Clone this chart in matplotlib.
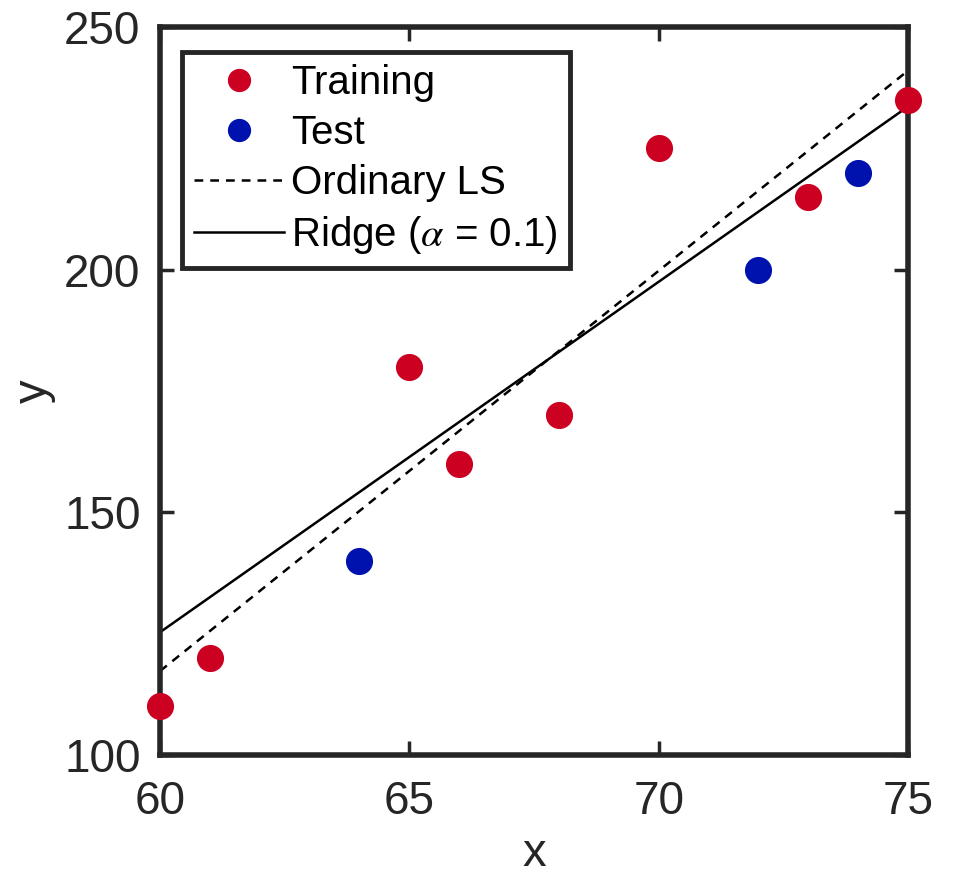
import matplotlib
matplotlib.use("Agg")
import matplotlib.pyplot as plt
from matplotlib import font_manager as fm
import numpy as np

# Data
train_x = [60, 61, 65, 66, 68, 70, 73, 75]
train_y = [110, 120, 180, 160, 170, 225, 215, 235]
test_x = [64, 72, 74]
test_y = [140, 200, 220]
line_x = [60, 75]
ols_y = [117.3, 241.0]
ridge_y = [125.3, 233.6]
xticks = [60, 65, 70, 75]
yticks = [100, 150, 200, 250]

names = {f.name for f in fm.fontManager.ttflist}
narrow = "Liberation Sans Narrow" if "Liberation Sans Narrow" in names else "Liberation Sans"
plt.rcParams['font.family'] = ['Liberation Sans', 'DejaVu Sans']
plt.rcParams['mathtext.fontset'] = 'stix'

fig = plt.figure(figsize=(9.56, 8.84), dpi=100)
ax = fig.add_axes([0.1674, 0.1459, 0.7824, 0.8236])

red = '#CC0020'
blue = '#0012AE'
dark = '#262626'

ax.plot(train_x, train_y, 'o', color=red, markersize=18.5, linestyle='none', label='Training',
        zorder=5, clip_on=False)
ax.plot(test_x, test_y, 'o', color=blue, markersize=18.5, linestyle='none', label='Test',
        zorder=5, clip_on=False)
ax.plot(line_x, ols_y, color='black', lw=1.8, dashes=(3.5, 2.8), label='Ordinary LS', zorder=2)
ax.plot(line_x, ridge_y, color='black', lw=1.8, label=r'Ridge ($\alpha$ = 0.1)', zorder=2)

ax.set_xlim(60, 75)
ax.set_ylim(100, 250)
ax.set_xticks(xticks)
ax.set_yticks(yticks)
ax.tick_params(direction='in', length=10, width=2.5, colors=dark, top=True, right=True,
               labelsize=33)
ax.tick_params(axis='x', pad=18)
ax.tick_params(axis='y', pad=14)
for lab in ax.get_xticklabels() + ax.get_yticklabels():
    lab.set_fontfamily(narrow)
for s in ax.spines.values():
    s.set_linewidth(4)
    s.set_color(dark)
    s.set_zorder(4)

ax.set_xlabel('x', fontsize=34, family=narrow, color=dark, labelpad=6)
ax.set_ylabel('y', fontsize=34, family=narrow, color=dark, labelpad=6)

leg = ax.legend(loc='upper left', bbox_to_anchor=(0.029, 0.966), borderaxespad=0,
                fontsize=29, handlelength=2.25, handletextpad=0.17, labelspacing=0.3,
                borderpad=0.3, frameon=True, fancybox=False, edgecolor=dark, framealpha=1,
                markerscale=0.85)
leg.get_frame().set_linewidth(3.5)
leg.set_zorder(6)

fig.savefig('out.png', dpi=100)
